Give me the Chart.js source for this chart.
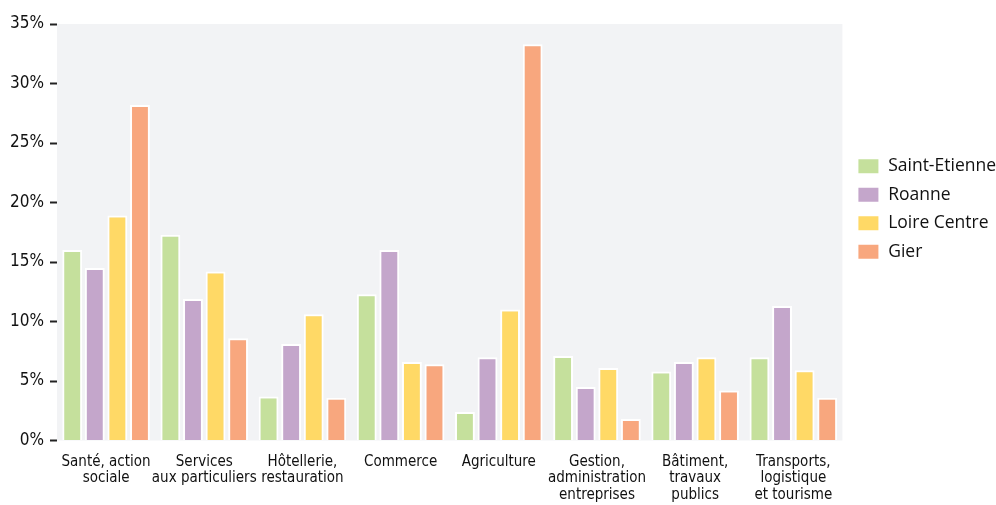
<!DOCTYPE html>
<html>
<head>
<meta charset="utf-8">
<script src="https://cdn.jsdelivr.net/npm/chart.js@4.4.1/dist/chart.umd.min.js"></script>
<style>
  html, body { margin: 0; padding: 0; background: #fff; }
  #wrap { width: 996px; height: 505px; }
</style>
</head>
<body>
<div id="wrap"><canvas id="myChart"></canvas></div>
<script>
const categories = [
    ['Santé, action', 'sociale'],
    ['Services', 'aux particuliers'],
    ['Hôtellerie,', 'restauration'],
    ['Commerce'],
    ['Agriculture'],
    ['Gestion,', 'administration', 'entreprises'],
    ['Bâtiment,', 'travaux', 'publics'],
    ['Transports,', 'logistique', 'et tourisme']
];
const seriesNames = ['Saint-Etienne', 'Roanne', 'Loire Centre', 'Gier'];
const saintEtienne = [16.0, 17.3, 3.7, 12.3, 2.4, 7.1, 5.8, 7.0];
const roanne = [14.5, 11.9, 8.1, 16.0, 7.0, 4.5, 6.6, 11.3];
const loireCentre = [18.9, 14.2, 10.6, 6.6, 11.0, 6.1, 7.0, 5.9];
const gier = [28.2, 8.6, 3.6, 6.4, 33.3, 1.8, 4.2, 3.6];
const yTicks = [0, 5, 10, 15, 20, 25, 30, 35];

const colors = ['#c5e09c', '#c4a6cb', '#ffd966', '#f8a77e'];
const condensed = '"DejaVu Sans Condensed", "Liberation Sans Narrow", sans-serif';

function makeSet(i, values) {
    return {
        label: seriesNames[i],
        data: values,
        backgroundColor: colors[i],
        borderColor: '#ffffff',
        borderWidth: 2,
        borderSkipped: 'bottom',
        categoryPercentage: 0.92,
        barPercentage: 0.88
    };
}

// grey plot background + nudge the legend into place
const plotBg = {
    id: 'plotBg',
    afterLayout(chart) {
        const lg = chart.legend;
        if (lg) {
            lg.top -= 57;
            lg.bottom -= 57;
            lg.left += 4;
            lg.right += 4;
        }
    },
    beforeDraw(chart) {
        const a = chart.chartArea;
        const ctx = chart.ctx;
        ctx.save();
        ctx.fillStyle = '#f2f3f5';
        ctx.fillRect(a.left, a.top, a.right - a.left, a.bottom - a.top);
        ctx.restore();
    }
};

const config = {
    type: 'bar',
    data: {
        labels: categories,
        datasets: [
            makeSet(0, saintEtienne),
            makeSet(1, roanne),
            makeSet(2, loireCentre),
            makeSet(3, gier)
        ]
    },
    options: {
        responsive: true,
        maintainAspectRatio: false,
        animation: false,
        layout: { padding: { left: 4, top: 24, right: -6, bottom: -3 } },
        plugins: {
            tooltip: { enabled: false },
            legend: {
                position: 'right',
                labels: {
                    boxWidth: 22,
                    boxHeight: 16,
                    padding: 11,
                    color: '#111',
                    font: { family: '"Open Sans", sans-serif', size: 17.5 }
                }
            }
        },
        scales: {
            x: {
                grid: { display: false },
                border: { display: false },
                ticks: {
                    color: '#111',
                    maxRotation: 0,
                    autoSkip: false,
                    padding: 5,
                    font: { family: condensed, size: 15, lineHeight: '16.5px' }
                }
            },
            y: {
                min: 0,
                max: 35,
                afterBuildTicks(axis) {
                    axis.ticks = yTicks.map(v => ({ value: v }));
                },
                grid: {
                    drawOnChartArea: false,
                    drawTicks: true,
                    tickLength: 7,
                    tickWidth: 2,
                    color: '#222'
                },
                border: { display: false },
                ticks: {
                    color: '#111',
                    padding: 6,
                    font: { family: condensed, size: 17 },
                    callback: v => v + '%'
                }
            }
        }
    },
    plugins: [plotBg]
};

new Chart(document.getElementById('myChart'), config);
</script>
</body>
</html>
